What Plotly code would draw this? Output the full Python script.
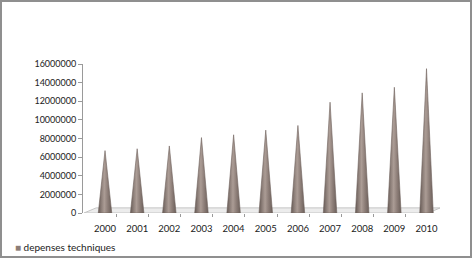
import plotly.graph_objects as go

years = ["2000", "2001", "2002", "2003", "2004", "2005", "2006", "2007", "2008", "2009", "2010"]
values = [6700000, 6900000, 7200000, 8100000, 8400000, 8900000, 9400000, 11900000, 12900000, 13500000, 15500000]
series_name = "depenses techniques"
y_ticks = [0, 2000000, 4000000, 6000000, 8000000, 10000000, 12000000, 14000000, 16000000]

W, H = 473, 259
ML, MR, MT, MB = 83, 33, 64, 46
XR = [-0.685, 10.42]

font = dict(family="Lato, Liberation Sans, sans-serif", size=9, color="#222222")
fig = go.Figure()

cone_scale = [[0, "#665a55"], [0.25, "#8f817b"], [0.45, "#ab9c95"], [0.7, "#8d7e78"], [1, "#6b5f5a"]]
hw = 0.21
for i, (yr, v) in enumerate(zip(years, values)):
    fig.add_trace(go.Scatter(
        x=[i - hw, i, i + hw, i - hw], y=[0, v, 0, 0],
        mode="lines", fill="toself", line=dict(width=0.6, color="#6e625c"),
        fillgradient=dict(type="horizontal", colorscale=cone_scale),
        name=series_name, showlegend=False, hoverinfo="skip"))

# 3D-like floor plate (decoration)
fx0, fx1 = XR[0] + 0.03, 10.05
dx, dy = 0.38, 550000
floor = (f"M {fx0},{0} L {fx1},{0} L {fx1+dx},{dy} L {fx0+dx},{dy} Z")
fig.add_shape(type="path", path=floor, xref="x", yref="y", layer="below",
              fillcolor="#ececec", line=dict(color="#c4c4c4", width=1))

pw = W - ML - MR
ph = H - MT - MB
def px2paper(px):
    return (px - ML) / pw
def py2paper(py):
    return (H - MB - py) / ph

fig.add_shape(type="rect", xref="paper", yref="paper",
              x0=px2paper(1), x1=px2paper(471), y0=py2paper(257), y1=py2paper(1),
              line=dict(color="#8f8f8f", width=2), fillcolor="rgba(0,0,0,0)")

# legend (as text with colored square)
fig.add_annotation(xref="paper", yref="paper", x=px2paper(13), y=py2paper(247),
                   xanchor="left", yanchor="middle", showarrow=False,
                   text='<span style="color:#8c7d77">■</span> ' + series_name,
                   font=dict(size=10, family="Lato, Liberation Sans, sans-serif", color="#222222"))

fig.update_layout(
    width=W, height=H, margin=dict(l=ML, r=MR, t=MT, b=MB, autoexpand=False),
    paper_bgcolor="white", plot_bgcolor="white", font=font,
    showlegend=False,
    xaxis=dict(range=XR, tickmode="array", tickvals=list(range(len(years))), ticktext=years,
               ticks="", showgrid=False, zeroline=False, showline=False, fixedrange=True,
               ticklabelstandoff=8, tickfont=dict(size=9.5),
               minor=dict(tickmode="array", tickvals=[i + 0.5 - 0.15 for i in range(len(years) - 1)],
                          ticks="outside", ticklen=3, tickcolor="#9a9a9a")),
    yaxis=dict(range=[0, 16000000], tickmode="array", tickvals=y_ticks, tickformat="d",
               ticks="outside", ticklen=4, tickcolor="#9a9a9a", showline=True, linecolor="#9a9a9a",
               linewidth=1, showgrid=False, zeroline=False, fixedrange=True),
)

fig.write_html("out.html")
